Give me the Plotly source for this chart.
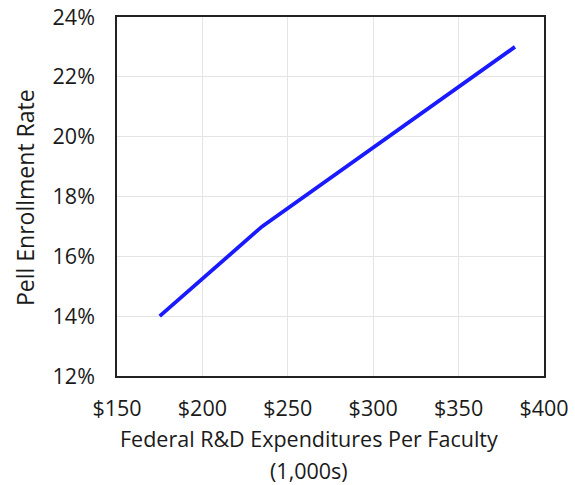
import plotly.graph_objects as go

x_vals = [175, 235, 383]
y_vals = [14, 17, 23]
x_ticks = [150, 200, 250, 300, 350, 400]
x_tick_labels = ["$150", "$200", "$250", "$300", "$350", "$400"]
y_ticks = [12, 14, 16, 18, 20, 22, 24]
y_tick_labels = ["12%", "14%", "16%", "18%", "20%", "22%", "24%"]

FONT = "Open Sans"
L, T, R, B = 117, 17, 544, 376
PW, PH = R - L, B - T

fig = go.Figure()
fig.add_trace(go.Scatter(x=x_vals, y=y_vals, mode="lines",
                         line=dict(color="#1a1aff", width=3.8), showlegend=False))

fig.update_layout(
    width=575, height=485,
    margin=dict(l=L, r=575 - R, t=T, b=485 - B, autoexpand=False),
    paper_bgcolor="white", plot_bgcolor="white",
    font=dict(family=FONT, size=21, color="#1a1a1a"),
    xaxis=dict(range=[150, 400], tickvals=x_ticks, ticktext=x_tick_labels,
               showgrid=True, gridcolor="#e4e4e4", gridwidth=1,
               showline=True, linecolor="#222222", linewidth=1.5, mirror=True,
               zeroline=False, ticks="", ticklabelstandoff=12, automargin=False,
               ticklabeloverflow="allow", tickfont=dict(size=21.5)),
    yaxis=dict(range=[12, 24], tickvals=y_ticks, ticktext=y_tick_labels,
               showgrid=True, gridcolor="#e4e4e4", gridwidth=1,
               showline=True, linecolor="#222222", linewidth=1.5, mirror=True,
               zeroline=False, ticks="", ticklabelstandoff=16, automargin=False,
               ticklabeloverflow="allow", tickfont=dict(size=21.5)),
    annotations=[
        dict(text="Pell Enrollment Rate", xref="paper", yref="paper",
             x=(25 - L) / PW, y=0.5 - (198 - 196.5) / PH, xanchor="center", yanchor="middle",
             textangle=-90, showarrow=False, font=dict(size=23)),
        dict(text="Federal R&D Expenditures Per Faculty", xref="paper", yref="paper",
             x=(309 - L) / PW, y=-(438 - B) / PH, xanchor="center", yanchor="middle",
             showarrow=False, font=dict(size=21.5)),
        dict(text="(1,000s)", xref="paper", yref="paper",
             x=(309 - L) / PW, y=-(470 - B) / PH, xanchor="center", yanchor="middle",
             showarrow=False, font=dict(size=21.5)),
    ],
)

fig.write_html("out.html", config={"displayModeBar": False},
               post_script="document.body.style.margin='0';")
